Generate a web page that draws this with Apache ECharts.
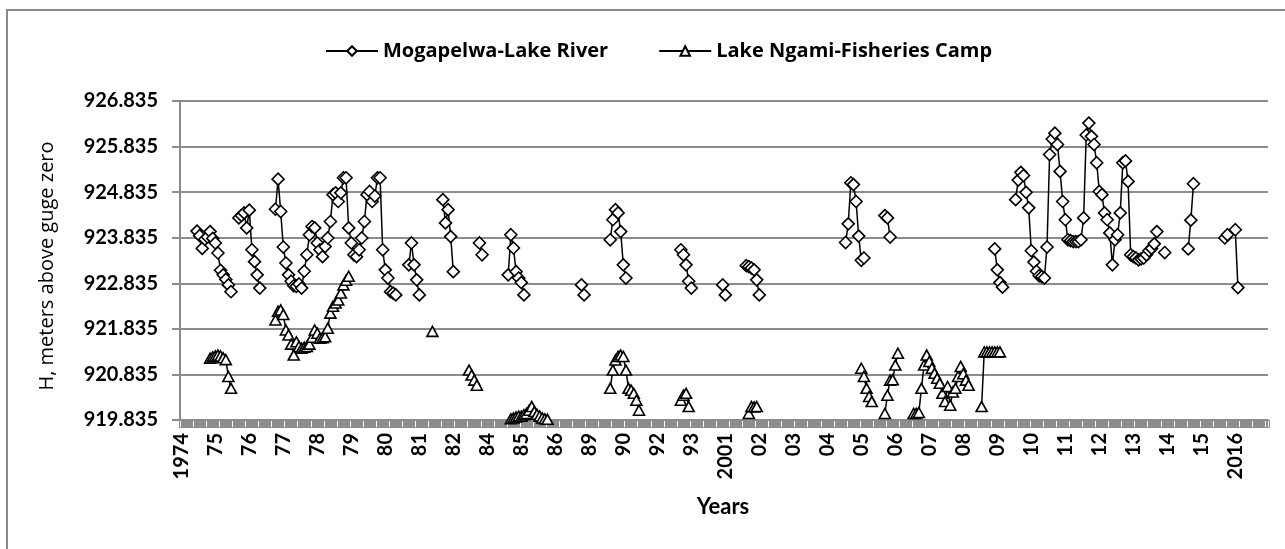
<!DOCTYPE html>
<html>
<head>
<meta charset="utf-8">
<script src="https://cdn.jsdelivr.net/npm/echarts@6/dist/echarts.min.js"></script>
<style>
html,body{margin:0;padding:0;background:#fff;}
#chart{width:1285px;height:549px;}
</style>
</head>
<body>
<div id="chart"></div>
<script>
// ---- data ----
const tickLabels = ['1974','75','76','77','78','79','80','81','82','84','85','86','89','90','92','93','2001','02','03','04','05','06','07','08','09','10','11','12','13','14','15','2016'];
const labelStep = 13;          // a label every 13 records
const recordCount = 416;       // records along the category axis
const yBase = 919.835;         // lowest tick value
const yTop = 926.835;

// Mogapelwa-Lake River: runs of consecutive records [startRecord, values]
const mogapelwaRuns = [
  [6,   [923.98, 923.88, 923.60, 923.80, 923.85, 923.97, 923.82, 923.72, 923.50, 923.12, 923.02, 922.92, 922.80, 922.65]],
  [22,  [924.27, 924.32, 924.38, 924.05, 924.44, 923.57, 923.31, 923.02, 922.73]],
  [36,  [924.46, 925.12, 924.41, 923.63, 923.28, 923.02, 922.88, 922.78, 922.77, 922.82, 922.73,
         923.10, 923.46, 923.90, 924.08, 924.05, 923.72, 923.57, 923.42, 923.64, 923.83, 924.19,
         924.78, 924.82, 924.63, 924.82, 925.15, 925.15, 924.05, 923.72, 923.46, 923.42, 923.57,
         923.83, 924.19, 924.78, 924.85, 924.63, 924.75, 925.15, 925.15, 923.57, 923.13, 922.95,
         922.65, 922.62, 922.58]],
  [87,  [923.24, 923.72, 923.24, 922.91, 922.58]],
  [100, [924.67, 924.16, 924.45, 923.86, 923.09]],
  [114, [923.72, 923.46]],
  [125, [923.02, 923.90, 923.61, 923.09, 922.95, 922.85, 922.58]],
  [153, [922.80, 922.58]],
  [164, [923.79, 924.23, 924.45, 924.38, 923.97, 923.24, 922.95]],
  [191, [923.57, 923.46, 923.24, 922.88, 922.73]],
  [207, [922.80, 922.58]],
  [216, [923.22, 923.20, 923.17, 923.13, 922.91, 922.58]],
  [254, [923.73, 924.14, 925.04, 925.00, 924.63, 923.87, 923.34, 923.39]],
  [269, [924.32, 924.27, 923.85]],
  [311, [923.59, 923.13, 922.85, 922.75]],
  [319, [924.67, 925.10, 925.27, 925.20, 924.83, 924.49, 923.55, 923.30, 923.10, 923.00, 922.98,
         922.95, 923.63, 925.66, 926.00, 926.13, 925.88, 925.29, 924.63, 924.23, 923.79, 923.77,
         923.75, 923.75, 923.75, 923.79, 924.27, 926.09, 926.35, 926.06, 925.88, 925.48, 924.85,
         924.78, 924.38, 924.23, 923.94, 923.24, 923.79, 923.90, 924.38, 925.48, 925.52, 925.07,
         923.46, 923.42, 923.39, 923.35, 923.37, 923.39, 923.46, 923.55, 923.60, 923.70, 923.97]],
  [376, [923.51]],
  [385, [923.59, 924.22, 925.02]],
  [399, [923.83, 923.90]],
  [403, [924.01, 922.74]]
];

// Lake Ngami-Fisheries Camp
const ngamiRuns = [
  [11,  [921.19, 921.22, 921.24, 921.26, 921.24, 921.20, 921.16, 920.79, 920.53]],
  [36,  [922.03, 922.22, 922.25, 922.15, 921.81, 921.70, 921.50, 921.26, 921.55, 921.45, 921.41,
         921.43, 921.45, 921.50, 921.65, 921.81, 921.74, 921.63, 921.64, 921.66, 921.85, 922.18,
         922.33, 922.40, 922.47, 922.62, 922.80, 922.90, 922.99]],
  [96,  [921.78]],
  [110, [920.93, 920.82, 920.71, 920.60]],
  [126, [919.86, 919.88, 919.90, 919.92, 919.92, 919.95, 919.98, 920.05, 920.13, 920.02, 919.96,
         919.92, 919.88, 919.86, 919.85]],
  [164, [920.53, 920.93, 921.15, 921.23, 921.26, 921.23, 920.93, 920.53, 920.49, 920.42, 920.27, 920.05]],
  [191, [920.27, 920.38, 920.42, 920.13]],
  [217, [919.98, 920.13, 920.12, 920.13]],
  [260, [920.97, 920.79, 920.53, 920.35, 920.24]],
  [269, [919.98, 920.38, 920.71, 920.72, 921.04, 921.30]],
  [280, [919.98, 919.98, 920.00, 920.53, 921.04, 921.26, 921.12, 920.97, 920.86, 920.75, 920.64,
         920.42, 920.24, 920.57, 920.16, 920.45, 920.53, 920.79, 921.01, 920.85, 920.71, 920.60]],
  [306, [920.13, 921.33, 921.33, 921.33, 921.33, 921.33, 921.33, 921.33]]
];

const seriesNames = ['Mogapelwa-Lake River', 'Lake Ngami-Fisheries Camp'];

// ---- build ----
const categories = [];
for (let i = 0; i < recordCount; i++) {
  categories.push(i % labelStep === 0 && tickLabels[i / labelStep] !== undefined ? tickLabels[i / labelStep] : '');
}
function expand(runs) {
  const arr = new Array(recordCount).fill(null);
  runs.forEach(([start, vals]) => {
    vals.forEach((v, k) => { arr[start + k] = +(v - yBase).toFixed(3); });
  });
  return arr;
}
const FONT = 'Lato';
const FONT2 = '"Open Sans"';
const GREY = '#8c8c8c';

const chart = echarts.init(document.getElementById('chart'), null, {renderer: 'canvas'});
chart.setOption({
  animation: false,
  backgroundColor: '#fff',
  grid: {left: 180, right: 17, top: 101, bottom: 129, containLabel: false},
  legend: {
    left: 325, top: 41, padding: 0,
    itemWidth: 52, itemHeight: 12, itemGap: 50,
    textStyle: {fontFamily: FONT2, fontWeight: 'bold', fontSize: 20, color: '#000'},
    data: seriesNames
  },
  xAxis: [{
    type: 'category',
    data: categories,
    boundaryGap: true,
    axisLine: {show: true, lineStyle: {color: GREY, width: 2}},
    axisTick: {show: true, interval: 0, length: 8, lineStyle: {color: GREY, width: 3}},
    axisLabel: {interval: labelStep - 1, rotate: 90, margin: 13, fontFamily: FONT, fontWeight: 'bold', fontSize: 20, color: '#000'},
    splitLine: {show: false}
  }, {
    type: 'value', position: 'bottom', offset: 1,
    min: 0, max: recordCount, interval: 5,
    axisLine: {show: false},
    axisTick: {show: true, length: 6, lineStyle: {color: '#fff', width: 1}},
    axisLabel: {show: false},
    splitLine: {show: false}
  }],
  yAxis: {
    type: 'value',
    min: 0, max: yTop - yBase, interval: 1,
    axisLine: {show: true, lineStyle: {color: GREY, width: 2}},
    axisTick: {show: true, length: 8, lineStyle: {color: GREY, width: 2}},
    axisLabel: {margin: 22, fontFamily: FONT, fontWeight: 'bold', fontSize: 20, color: '#000',
      formatter: v => (yBase + v).toFixed(3)},
    splitLine: {show: true, lineStyle: {color: GREY, width: 2}}
  },
  graphic: [
    {type: 'rect', shape: {x: 7, y: 10, width: 1300, height: 600}, style: {fill: 'none', stroke: '#8a8a8a', lineWidth: 2}, silent: true, z: -1},
    {type: 'text', x: 47, y: 266, rotation: Math.PI / 2,
      style: {text: 'H, meters above guge zero', fontFamily: FONT2, fontSize: 20, fill: '#000', align: 'center', verticalAlign: 'middle'}},
    {type: 'text', x: 723, y: 507,
      style: {text: 'Years', fontFamily: FONT, fontWeight: 'bold', fontSize: 22, fill: '#000', align: 'center', verticalAlign: 'middle'}}
  ],
  series: [
    {
      name: seriesNames[0], type: 'line', data: expand(mogapelwaRuns),
      symbol: 'diamond', symbolSize: 12, showSymbol: true, showAllSymbol: true, connectNulls: false, clip: false,
      lineStyle: {color: '#000', width: 1.5},
      itemStyle: {color: '#fff', borderColor: '#000', borderWidth: 1.6}
    },
    {
      name: seriesNames[1], type: 'line', data: expand(ngamiRuns),
      symbol: 'triangle', symbolSize: [11, 10], showSymbol: true, showAllSymbol: true, connectNulls: false, clip: false,
      lineStyle: {color: '#000', width: 1.5},
      itemStyle: {color: '#fff', borderColor: '#000', borderWidth: 1.6}
    }
  ]
});
</script>
</body>
</html>
